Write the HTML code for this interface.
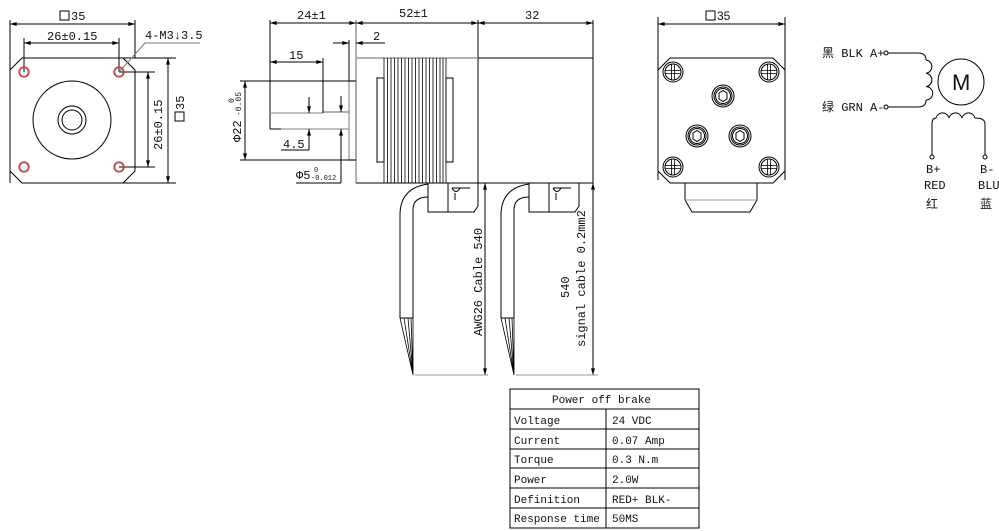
<!DOCTYPE html>
<html><head><meta charset="utf-8"><style>
html,body{margin:0;padding:0;background:#fff;}
svg{display:block;}
text{font-family:"Liberation Mono","Noto Sans CJK SC",monospace;font-size:12px;fill:#111;}
.t{font-size:11px;}
</style></head><body>
<svg width="999" height="531" viewBox="0 0 999 531" xmlns="http://www.w3.org/2000/svg">
<defs>
<marker id="a" viewBox="0 0 10 6" refX="10" refY="3" markerWidth="8" markerHeight="4" orient="auto-start-reverse"><path d="M0,0L10,3L0,6z" fill="#000"/></marker>
</defs>
<g stroke="#000" stroke-width="1" fill="none">
<line x1="10" y1="20" x2="10" y2="183"/><line x1="135" y1="20" x2="135" y2="58"/>
<line x1="10" y1="24" x2="135" y2="24" marker-start="url(#a)" marker-end="url(#a)"/>
<line x1="24" y1="38" x2="24" y2="72"/><line x1="119" y1="38" x2="119" y2="72"/>
<line x1="24" y1="43" x2="119" y2="43" marker-start="url(#a)" marker-end="url(#a)"/>
<path d="M22,58H123L135,70V171L123,183H22L10,171V70Z"/>
<line x1="123" y1="58" x2="176" y2="58"/><line x1="123" y1="183" x2="176" y2="183"/>
<line x1="168" y1="58" x2="168" y2="183" marker-start="url(#a)" marker-end="url(#a)"/>
<line x1="119" y1="72" x2="155" y2="72"/><line x1="119" y1="167" x2="155" y2="167"/>
<line x1="148" y1="72" x2="148" y2="167" marker-start="url(#a)" marker-end="url(#a)"/>
<circle cx="72" cy="120" r="39"/><circle cx="72" cy="120" r="14"/><circle cx="72" cy="120" r="10"/>
<g stroke="#e03030" stroke-width="1.3"><circle cx="24" cy="72" r="5"/><circle cx="119" cy="72" r="5"/><circle cx="24" cy="167" r="5"/><circle cx="119" cy="167" r="5"/></g>
<circle cx="24" cy="72" r="4" stroke="#666" stroke-width=".6"/><circle cx="119" cy="72" r="4" stroke="#666" stroke-width=".6"/><circle cx="24" cy="167" r="4" stroke="#666" stroke-width=".6"/><circle cx="119" cy="167" r="4" stroke="#666" stroke-width=".6"/>
<polyline points="119,72 145,43 200,43" stroke="#777"/>
<line x1="270" y1="20" x2="270" y2="129"/>
<line x1="356" y1="20" x2="356" y2="183" stroke="#999" stroke-width="1.5"/>
<line x1="478" y1="20" x2="478" y2="183"/><line x1="593" y1="20" x2="593" y2="183"/>
<line x1="270" y1="23" x2="356" y2="23" marker-start="url(#a)" marker-end="url(#a)"/>
<line x1="356" y1="23" x2="478" y2="23" marker-start="url(#a)" marker-end="url(#a)"/>
<line x1="478" y1="23" x2="593" y2="23" marker-start="url(#a)" marker-end="url(#a)"/>
<line x1="356" y1="58" x2="478" y2="58" stroke="#999" stroke-width="1.5"/>
<line x1="478" y1="58" x2="593" y2="58"/>
<line x1="356" y1="183" x2="593" y2="183"/>
<g stroke-width=".8">
<line x1="384" y1="58" x2="384" y2="183"/><line x1="387.5" y1="58" x2="387.5" y2="183"/><line x1="391" y1="58" x2="391" y2="183"/><line x1="394.5" y1="58" x2="394.5" y2="183"/><line x1="398" y1="58" x2="398" y2="183"/><line x1="401.5" y1="58" x2="401.5" y2="183"/><line x1="405" y1="58" x2="405" y2="183"/><line x1="408.5" y1="58" x2="408.5" y2="183"/><line x1="412" y1="58" x2="412" y2="183"/><line x1="415.5" y1="58" x2="415.5" y2="183"/><line x1="419" y1="58" x2="419" y2="183"/><line x1="422.5" y1="58" x2="422.5" y2="183"/><line x1="426" y1="58" x2="426" y2="183"/><line x1="429.5" y1="58" x2="429.5" y2="183"/><line x1="433" y1="58" x2="433" y2="183"/><line x1="436.5" y1="58" x2="436.5" y2="183"/><line x1="440" y1="58" x2="440" y2="183"/><line x1="443" y1="58" x2="443" y2="183"/><line x1="446" y1="58" x2="446" y2="183"/>
</g>
<rect x="377" y="78" width="7" height="84"/><rect x="446" y="78" width="7" height="84"/>
<rect x="349" y="81" width="7" height="79" stroke="#999" stroke-width="1.3"/>
<line x1="270" y1="113" x2="323" y2="113" stroke="#999" stroke-width="1.3"/>
<line x1="323" y1="112" x2="349" y2="112" stroke="#666"/>
<line x1="270" y1="129" x2="281" y2="129"/>
<line x1="281" y1="129" x2="349" y2="129" stroke="#999" stroke-width="1.3"/>
<line x1="323" y1="58" x2="323" y2="113"/>
<line x1="270" y1="62" x2="323" y2="62" marker-start="url(#a)" marker-end="url(#a)"/>
<line x1="349" y1="40" x2="349" y2="81"/>
<line x1="333" y1="43" x2="349" y2="43" marker-end="url(#a)"/>
<line x1="385" y1="43" x2="356" y2="43" marker-end="url(#a)"/>
<line x1="240" y1="81" x2="356" y2="81"/><line x1="240" y1="160" x2="356" y2="160"/>
<line x1="245" y1="81" x2="245" y2="160" marker-start="url(#a)" marker-end="url(#a)"/>
<line x1="309" y1="97" x2="309" y2="113" marker-end="url(#a)"/>
<line x1="309" y1="150" x2="309" y2="129" marker-end="url(#a)"/>
<line x1="281" y1="150" x2="309" y2="150"/>
<line x1="341" y1="96" x2="341" y2="112" marker-end="url(#a)"/>
<line x1="341" y1="183" x2="341" y2="129" marker-end="url(#a)"/>
<line x1="296" y1="183" x2="341" y2="183"/>
<g id="cab">
<path d="M428,183V212H474L478,206V183"/><line x1="448" y1="183" x2="448" y2="212"/>
<path d="M452,188Q456,195 460,188M455,193V200M452,188H470"/>
<path d="M428,184Q400,188 400,215V318"/><path d="M428,197Q413,197 413,210V318"/>
<path d="M400,318L413,375M404,318L413,375M408,318L413,375M411,318L413,375M413,318V375" stroke-width=".8"/>
<line x1="400" y1="318" x2="413" y2="318"/>
</g>
<use href="#cab" x="101"/>
<line x1="485" y1="183" x2="485" y2="375" marker-start="url(#a)" marker-end="url(#a)"/>
<line x1="593" y1="183" x2="593" y2="375" marker-start="url(#a)" marker-end="url(#a)"/>
<line x1="415" y1="375" x2="488" y2="375" stroke="#999"/><line x1="516" y1="375" x2="598" y2="375" stroke="#999"/>
<line x1="658" y1="17" x2="658" y2="180"/><line x1="785" y1="17" x2="785" y2="180"/>
<line x1="658" y1="24" x2="785" y2="24" marker-start="url(#a)" marker-end="url(#a)"/>
<path d="M670,58H773L785,70V171L773,183H670L658,171V70Z"/>
<path d="M685,183V200L692,212H750L757,200V183"/><line x1="685" y1="200" x2="757" y2="200" stroke="#999"/>
<g id="sc"><circle cx="673" cy="72" r="10"/><circle cx="673" cy="72" r="8"/><path d="M665,70.5H681M665,73.5H681M671.5,64V80M674.5,64V80" stroke-width=".8"/></g>
<use href="#sc" x="96"/><use href="#sc" y="95"/><use href="#sc" x="96" y="95"/>
<g id="hx"><circle cx="723" cy="96" r="11"/><circle cx="723" cy="96" r="9"/><circle cx="723" cy="96" r="7.5"/><path d="M719,93L723,90.5L727,93V99L723,101.5L719,99Z"/></g>
<use href="#hx" x="-26" y="40"/><use href="#hx" x="17" y="40"/>
<circle cx="886" cy="53" r="2"/><circle cx="886" cy="107" r="2"/>
<path d="M888,53H918Q926,53 926,60M888,107H918Q926,107 926,100"/>
<path d="M926,60A6.7,6.7 0 0 1 926,73.3A6.7,6.7 0 0 1 926,86.6A6.7,6.7 0 0 1 926,100"/>
<circle cx="961" cy="82" r="23"/>
<path d="M932,155V124Q932,118 936,118A6.7,6.7 0 0 1 949,118A6.7,6.7 0 0 1 962,118A6.7,6.7 0 0 1 975,118Q985,118 985,124V155"/>
<circle cx="932" cy="157" r="2"/><circle cx="985" cy="157" r="2"/>
<rect x="510" y="389" width="189" height="139"/>
<line x1="510" y1="409" x2="699" y2="409"/><line x1="510" y1="429" x2="699" y2="429"/><line x1="510" y1="449" x2="699" y2="449"/><line x1="510" y1="468" x2="699" y2="468"/><line x1="510" y1="488" x2="699" y2="488"/><line x1="510" y1="508" x2="699" y2="508"/>
<line x1="606" y1="409" x2="606" y2="528"/>
</g>
<rect x="60" y="11" width="9" height="9" fill="none" stroke="#000"/><text x="71" y="20">35</text>
<text x="47" y="40">26±0.15</text>
<text x="145" y="39">4-M3↓3.5</text>
<text transform="translate(162,150) rotate(-90)">26±0.15</text>
<rect x="175" y="112" width="9" height="9" fill="none" stroke="#000"/><text transform="translate(184,110) rotate(-90)">35</text>
<text x="297" y="19">24±1</text><text x="399" y="17">52±1</text><text x="525" y="19">32</text>
<text x="373" y="40">2</text><text x="289" y="59">15</text>
<text x="283" y="148">4.5</text>
<text transform="translate(241,142) rotate(-90)">Φ22</text>
<text transform="translate(241,116) rotate(-90)" style="font-size:8px">-0.05</text>
<text transform="translate(234,103) rotate(-90)" style="font-size:8px">0</text>
<text x="296" y="179">Φ5</text><text x="314" y="172" style="font-size:7px">0</text><text x="311" y="180" style="font-size:7px">-0.012</text>
<text transform="translate(482,336) rotate(-90)">AWG26 Cable 540</text>
<text transform="translate(569,298) rotate(-90)">540</text>
<text transform="translate(585,347) rotate(-90)">signal cable 0.2mm2</text>
<rect x="706" y="11" width="9" height="9" fill="none" stroke="#000"/><text x="717" y="20" style="font-family:'Liberation Sans',sans-serif">35</text>
<text x="822" y="57">黑 BLK A+</text><text x="822" y="111">绿 GRN A-</text>
<text x="952" y="90" style="font-family:'Liberation Sans',sans-serif;font-size:22px;font-weight:300">M</text>
<text x="926" y="173">B+</text><text x="924" y="189">RED</text><text x="926" y="208">红</text>
<text x="980" y="173">B-</text><text x="978" y="189">BLU</text><text x="980" y="208">蓝</text>
<text class="t" x="552" y="403">Power off brake</text>
<text class="t" x="514" y="424">Voltage</text><text class="t" x="612" y="424">24 VDC</text>
<text class="t" x="514" y="444">Current</text><text class="t" x="612" y="444">0.07 Amp</text>
<text class="t" x="514" y="463">Torque</text><text class="t" x="612" y="463">0.3 N.m</text>
<text class="t" x="514" y="483">Power</text><text class="t" x="612" y="483">2.0W</text>
<text class="t" x="514" y="503">Definition</text><text class="t" x="612" y="503">RED+ BLK-</text>
<text class="t" x="514" y="522">Response time</text><text class="t" x="612" y="522">50MS</text>
</svg>
</body></html>
